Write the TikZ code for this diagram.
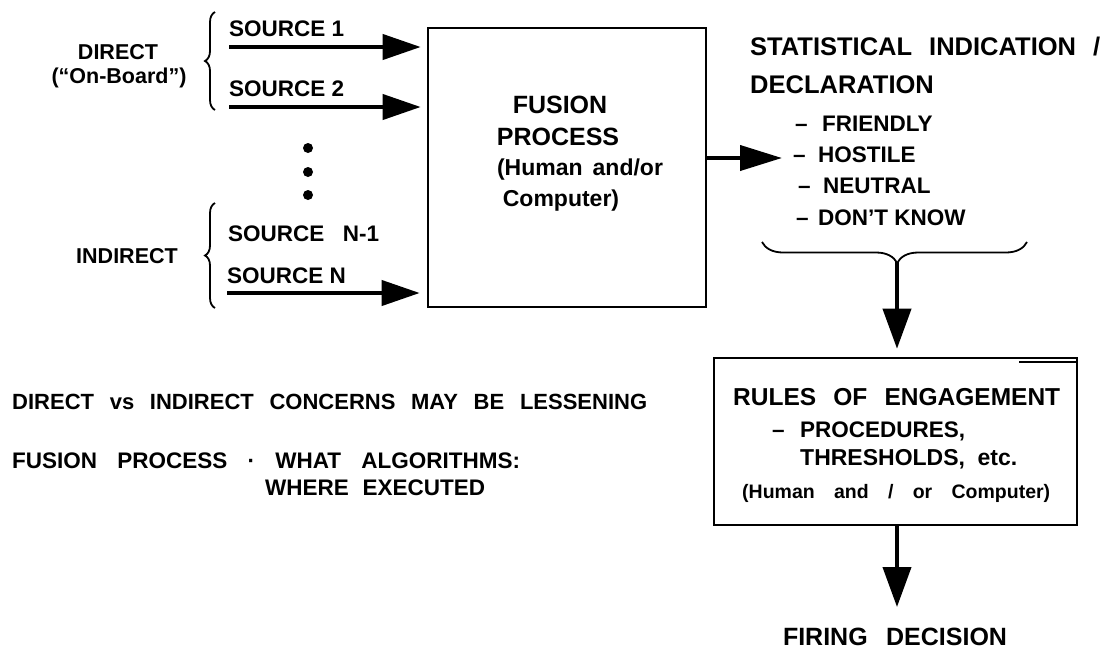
\documentclass[tikz,border=0pt]{standalone}
\usepackage{fontspec}
\setmainfont{Liberation Sans}
\usetikzlibrary{arrows.meta,decorations.pathreplacing}
\newcommand{\spr}[2]{\makebox[#1pt][s]{#2}}
\tikzset{
  txt/.style={inner sep=0pt, anchor=base west, font=\bfseries\fontsize{#1}{#1}\selectfont},
  bigarrow/.style={line width=4pt, -{Triangle[length=38pt,width=25pt]}},
  downarrow/.style={line width=4pt, -{Triangle[length=40pt,width=28pt]}},
  bracestyle/.style={line width=1.8pt, decorate},
  boxstyle/.style={draw, line width=2.6pt, inner sep=0pt},
  dotstyle/.style={circle, fill, inner sep=0pt, minimum size=10pt}
}
\begin{document}
\begin{tikzpicture}[x=1pt,y=-1pt]
\useasboundingbox (0,0) rectangle (1117,649);

% left labels
\node[txt=21.5, anchor=base] (direct) at (118,59) {DIRECT};
\node[txt=21.5, anchor=base] (onboard) at (119,83) {(“On-Board”)};
\node[txt=21.5, anchor=base] (indirect) at (127,263) {INDIRECT};

% braces
\draw[bracestyle, decoration={brace, amplitude=10pt}] (215,110) -- (215,12);
\draw[bracestyle, decoration={brace, amplitude=10pt}] (215,308) -- (215,203);

% sources
\node[txt=22.5] (src1) at (229,36) {SOURCE 1};
\node[txt=22.5] (src2) at (229,96) {SOURCE 2};
\node[txt=22.5] (srcn1) at (228,241) {\spr{151}{SOURCE N-1}};
\node[txt=22.5] (srcn) at (227,283) {SOURCE N};

\node[dotstyle] (d1) at (308,148) {};
\node[dotstyle] (d2) at (308,172) {};
\node[dotstyle] (d3) at (308,195) {};

% fusion box
\node[boxstyle, minimum width=278pt, minimum height=279pt] (fusion) at (567,167.5) {};
\node[txt=25, anchor=base] (f1) at (560,113) {FUSION};
\node[txt=25, anchor=base] (f2) at (558,145) {PROCESS};
\node[txt=23, anchor=base] (f3) at (580,175) {\spr{166}{(Human and/or}};
\node[txt=23, anchor=base] (f4) at (561,206) {Computer)};

\coordinate (a1) at (229,47);
\coordinate (a2) at (229,107);
\coordinate (an) at (227,293);
\draw[bigarrow, shorten >=6pt] (a1) -- (a1 -| fusion.west);
\draw[bigarrow, shorten >=6pt] (a2) -- (a2 -| fusion.west);
\draw[bigarrow, shorten >=7pt] (an) -- (an -| fusion.west);

% statistical
\node[txt=25.5] (stat1) at (750,55) {\spr{350}{STATISTICAL INDICATION /}};
\node[txt=25.5] (stat2) at (750,93) {DECLARATION};
\node[txt=22.5] (l1) at (795,131) {\makebox[27pt][l]{–}FRIENDLY};
\node[txt=22.5] (l2) at (793,162) {\makebox[25pt][l]{–}HOSTILE};
\node[txt=22.5] (l3) at (798,193) {\makebox[25pt][l]{–}NEUTRAL};
\node[txt=22.5] (l4) at (796,225) {\makebox[22pt][l]{–}DON’T KNOW};

\coordinate (hostarrow) at (782,158);
\draw[bigarrow, -{Triangle[length=42pt,width=25pt]}] (fusion.east |- hostarrow) -- (hostarrow);

\draw[bracestyle, decoration={brace, amplitude=21pt, aspect=0.49}] (1027,242) -- (762,242);
\coordinate (bcusp) at (897,262);

% rules box
\node[boxstyle, minimum width=363pt, minimum height=167pt] (rules) at (895.5,441.5) {};
\draw[line width=1.2pt] (1019,362) -- (rules.east |- 0,362);
\draw[downarrow, shorten >=8pt] (bcusp) -- (bcusp |- rules.north);

\node[txt=24.5] (r1) at (733,405) {\spr{327}{RULES OF ENGAGEMENT}};
\node[txt=22.5] (r2) at (772,437) {\makebox[28pt][l]{–}PROCEDURES,};
\node[txt=23] (r3) at (800,465) {\spr{217}{THRESHOLDS, etc.}};
\node[txt=19.5] (r4) at (742,498) {\spr{308}{(Human and / or Computer)}};

\coordinate (fire) at (897,607);
\draw[downarrow] (rules.south -| fire) -- (fire);
\node[txt=25, anchor=base] (firing) at (895,645) {\spr{224}{FIRING DECISION}};

% notes
\node[txt=22] (n1) at (12,409) {\spr{635}{DIRECT vs INDIRECT CONCERNS MAY BE LESSENING}};
\node[txt=22.5] (n2) at (12,468) {\spr{508}{FUSION PROCESS · WHAT ALGORITHMS:}};
\node[txt=22.5] (n3) at (265,495) {\spr{220}{WHERE EXECUTED}};
\end{tikzpicture}
\end{document}
